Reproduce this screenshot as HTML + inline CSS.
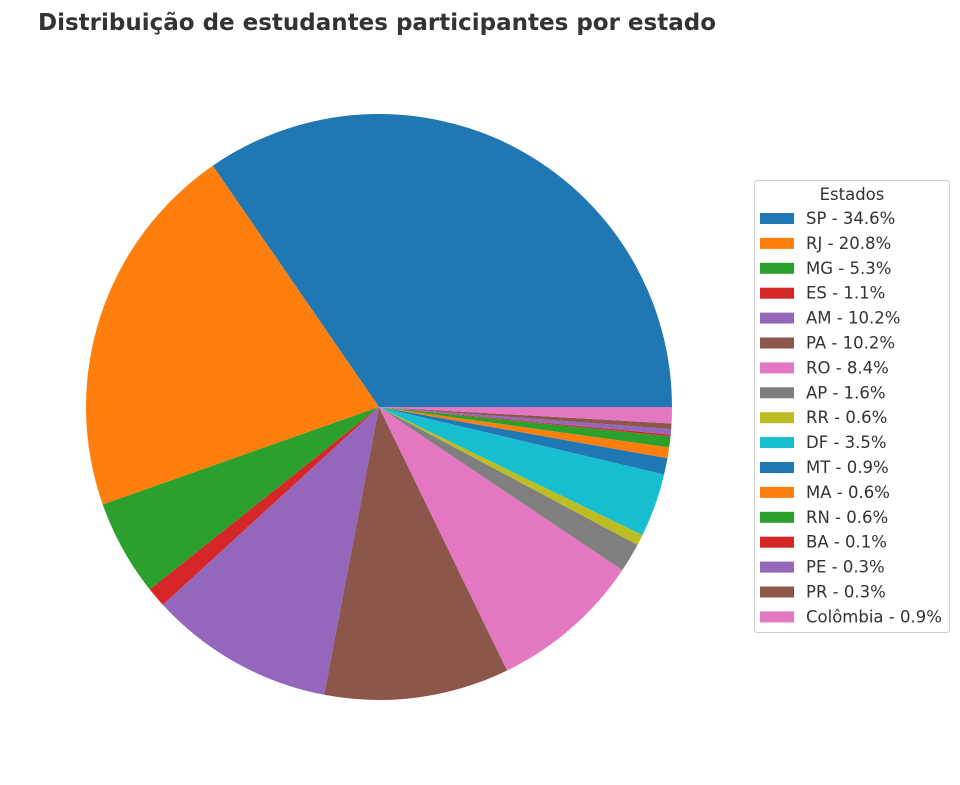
<!DOCTYPE html>
<html><head><meta charset="utf-8"><style>
body{margin:0;background:#fff;width:960px;height:785px;overflow:hidden}
svg{display:block}
text{font-family:"DejaVu Sans","Liberation Sans",sans-serif;fill:#333}
</style></head><body>
<svg id="s" width="960" height="785" viewBox="0 0 960 785">
<text x="38" y="30" font-size="23" font-weight="bold" fill="#333">Distribuição de estudantes participantes por estado</text>
<g id="pie"></g>
<rect x="754.5" y="180.5" width="195" height="452" rx="3" fill="#fff" stroke="#ccc"/>
<text x="852" y="200" font-size="16.5" text-anchor="middle">Estados</text>
<g id="leg"></g>
</svg>
<script>
var d=[["SP",34.6],["RJ",20.8],["MG",5.3],["ES",1.1],["AM",10.2],["PA",10.2],["RO",8.4],["AP",1.6],["RR",0.6],["DF",3.5],["MT",0.9],["MA",0.6],["RN",0.6],["BA",0.1],["PE",0.3],["PR",0.3],["Colômbia",0.9]];
var c=["#1f77b4","#ff7f0e","#2ca02c","#d62728","#9467bd","#8c564b","#e377c2","#7f7f7f","#bcbd22","#17becf"];
var cx=379,cy=407,r=293,a=0,ns="http://www.w3.org/2000/svg";
var pie=document.getElementById("pie"),leg=document.getElementById("leg");
d.forEach(function(e,i){
 var a2=a+e[1]/100*2*Math.PI;
 var x1=cx+r*Math.cos(a),y1=cy-r*Math.sin(a),x2=cx+r*Math.cos(a2),y2=cy-r*Math.sin(a2);
 var large=(a2-a)>Math.PI?1:0;
 var pa=document.createElementNS(ns,"path");
 pa.setAttribute("d","M"+cx+","+cy+"L"+x1+","+y1+"A"+r+","+r+" 0 "+large+" 0 "+x2+","+y2+"Z");
 pa.setAttribute("fill",c[i%10]);pie.appendChild(pa);
 a=a2;
 var y=218+24.9*i;
 var re=document.createElementNS(ns,"rect");
 re.setAttribute("x",760);re.setAttribute("y",y-5);re.setAttribute("width",34);re.setAttribute("height",11);re.setAttribute("fill",c[i%10]);leg.appendChild(re);
 var t=document.createElementNS(ns,"text");
 t.setAttribute("x",806);t.setAttribute("y",y+6);t.setAttribute("font-size","16.5");
 t.textContent=e[0]+" - "+e[1].toFixed(1)+"%";leg.appendChild(t);
});
</script>
</body></html>
